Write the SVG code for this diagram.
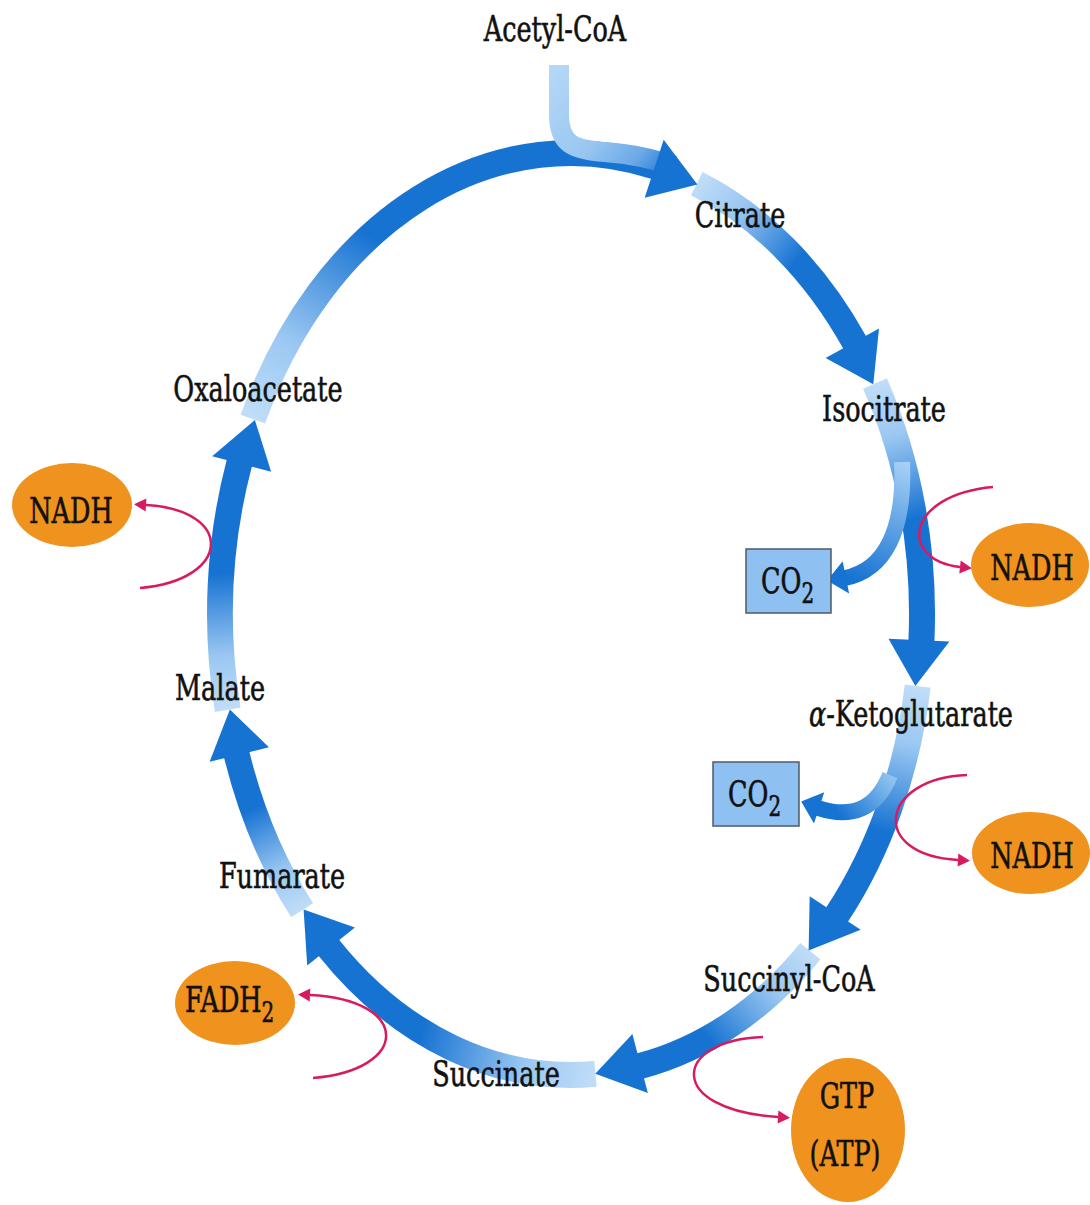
<svg xmlns="http://www.w3.org/2000/svg" xmlns:xlink="http://www.w3.org/1999/xlink" width="1090" height="1205" viewBox="0 0 1090 1205">
<style>
.lbl{font-family:"DejaVu Serif","Liberation Serif",serif;font-size:25.5px;fill:#111;stroke:#111;stroke-width:0.45px;text-anchor:middle}
.lbs{font-family:"DejaVu Serif","Liberation Serif",serif;font-size:25.5px;fill:#111;stroke:#111;stroke-width:0.45px;text-anchor:start}
.band{fill:none;stroke-width:26}
.head{fill:none;stroke:none;marker-end:url(#ah)}
.br{fill:none;stroke-width:16;marker-end:url(#ahs)}
.mg{fill:none;stroke:#d81b60;stroke-width:2.5;marker-end:url(#mh)}
.orb{fill:#f0921e}
.box{fill:#8fc0f2;stroke:#4d5a6a;stroke-width:1.5}
</style>
<defs>
<marker id="ah" markerUnits="userSpaceOnUse" viewBox="-2 -40 50 80" markerWidth="50" markerHeight="80" refX="0" refY="0" orient="auto">
<path d="M-1,-28 L45,4 L-1,33 Z" fill="#1773d2"/>
</marker>
<marker id="ahs" markerUnits="userSpaceOnUse" viewBox="-2 -20 24 40" markerWidth="24" markerHeight="40" refX="0" refY="0" orient="auto">
<path d="M-1,-16 L18,1 L-1,17 Z" fill="#1773d2"/>
</marker>
<marker id="mh" markerUnits="userSpaceOnUse" viewBox="-1 -8 15 16" markerWidth="15" markerHeight="16" refX="0" refY="0" orient="auto">
<path d="M0,-6.5 L12,0 L0,6.5 Z" fill="#d81b60"/>
</marker>
<linearGradient id="g1" gradientUnits="userSpaceOnUse" x1="252.9" y1="419.2" x2="369.7" y2="236.4"><stop offset="0" stop-color="#c0ddf8"/><stop offset="0.4" stop-color="#9ac7f2"/><stop offset="1" stop-color="#1773d2"/></linearGradient>
<linearGradient id="g2" gradientUnits="userSpaceOnUse" x1="696.8" y1="183.6" x2="796.6" y2="260.9"><stop offset="0" stop-color="#c0ddf8"/><stop offset="0.4" stop-color="#9ac7f2"/><stop offset="1" stop-color="#1773d2"/></linearGradient>
<linearGradient id="g3" gradientUnits="userSpaceOnUse" x1="875" y1="383.5" x2="914.3" y2="518.2"><stop offset="0" stop-color="#c0ddf8"/><stop offset="0.4" stop-color="#9ac7f2"/><stop offset="1" stop-color="#1773d2"/></linearGradient>
<linearGradient id="g4" gradientUnits="userSpaceOnUse" x1="917.7" y1="686.1" x2="880.9" y2="830.4"><stop offset="0" stop-color="#c0ddf8"/><stop offset="0.4" stop-color="#9ac7f2"/><stop offset="1" stop-color="#1773d2"/></linearGradient>
<linearGradient id="g5" gradientUnits="userSpaceOnUse" x1="810.4" y1="951.2" x2="708.1" y2="1038.4"><stop offset="0" stop-color="#c0ddf8"/><stop offset="0.4" stop-color="#9ac7f2"/><stop offset="1" stop-color="#1773d2"/></linearGradient>
<linearGradient id="g6" gradientUnits="userSpaceOnUse" x1="595.5" y1="1073.9" x2="422.7" y2="1031.8"><stop offset="0" stop-color="#c0ddf8"/><stop offset="0.4" stop-color="#9ac7f2"/><stop offset="1" stop-color="#1773d2"/></linearGradient>
<linearGradient id="g7" gradientUnits="userSpaceOnUse" x1="302.1" y1="910.3" x2="252.9" y2="808.8"><stop offset="0" stop-color="#c0ddf8"/><stop offset="0.4" stop-color="#9ac7f2"/><stop offset="1" stop-color="#1773d2"/></linearGradient>
<linearGradient id="g8" gradientUnits="userSpaceOnUse" x1="227.7" y1="709.8" x2="221.3" y2="573.8"><stop offset="0" stop-color="#c0ddf8"/><stop offset="0.4" stop-color="#9ac7f2"/><stop offset="1" stop-color="#1773d2"/></linearGradient>
<linearGradient id="gs" gradientUnits="userSpaceOnUse" x1="559" y1="65" x2="675" y2="168"><stop offset="0" stop-color="#b5d7f7"/><stop offset="0.5" stop-color="#98c6f1"/><stop offset="0.78" stop-color="#6aa8e6"/><stop offset="1" stop-color="#1773d2"/></linearGradient>
<linearGradient id="gb1" gradientUnits="userSpaceOnUse" x1="900" y1="462" x2="850" y2="578"><stop offset="0" stop-color="#a5cff5"/><stop offset="1" stop-color="#1773d2"/></linearGradient>
<linearGradient id="gb2" gradientUnits="userSpaceOnUse" x1="888" y1="775" x2="840" y2="815"><stop offset="0" stop-color="#8ec2f0"/><stop offset="1" stop-color="#1773d2"/></linearGradient>
<path id="s1" d="M252.9,419.2 A351,461 0 0 1 655.9,166.7"/>
<path id="s2" d="M696.8,183.6 A351,461 0 0 1 855,343"/>
<path id="s3" d="M875,383.5 A351,461 0 0 1 921.4,641.3"/>
<path id="s4" d="M917.7,686.1 A351,461 0 0 1 836.7,915.2"/>
<path id="s5" d="M810.4,951.2 A351,461 0 0 1 639.8,1066.1"/>
<path id="s6" d="M595.5,1073.9 A351,461 0 0 1 328.5,947.3"/>
<path id="s7" d="M302.1,910.3 A351,461 0 0 1 236.6,754.1"/>
<path id="s8" d="M227.7,709.8 A351,461 0 0 1 239.5,462.4"/>
</defs>
<rect x="0" y="0" width="1090" height="1205" fill="#ffffff"/>

<g id="connectors">
<g id="cycle-bands">
<use xlink:href="#s1" href="#s1" class="band" stroke="url(#g1)"/>
<use xlink:href="#s2" href="#s2" class="band" stroke="url(#g2)"/>
<use xlink:href="#s3" href="#s3" class="band" stroke="url(#g3)"/>
<use xlink:href="#s4" href="#s4" class="band" stroke="url(#g4)"/>
<use xlink:href="#s5" href="#s5" class="band" stroke="url(#g5)"/>
<use xlink:href="#s6" href="#s6" class="band" stroke="url(#g6)"/>
<use xlink:href="#s7" href="#s7" class="band" stroke="url(#g7)"/>
<use xlink:href="#s8" href="#s8" class="band" stroke="url(#g8)"/>
</g>
<path id="acetyl-stem" d="M559,65 L559,115 C559,145 575,150 605,152 C635,154 655,160 674,166" fill="none" stroke="url(#gs)" stroke-width="20"/>
<g id="cycle-heads">
<use xlink:href="#s1" href="#s1" class="head"/>
<use xlink:href="#s2" href="#s2" class="head"/>
<use xlink:href="#s3" href="#s3" class="head"/>
<use xlink:href="#s4" href="#s4" class="head"/>
<use xlink:href="#s5" href="#s5" class="head"/>
<use xlink:href="#s6" href="#s6" class="head"/>
<use xlink:href="#s7" href="#s7" class="head"/>
<use xlink:href="#s8" href="#s8" class="head"/>
</g>
<path id="co2-branch-1" class="br" stroke="url(#gb1)" d="M902,462 C905,530 885,570 845,578"/>
<path id="co2-branch-2" class="br" stroke="url(#gb2)" d="M890,775 Q870,825 818,808"/>
<path class="mg" d="M993,487 C905,495 898,560 960,567"/>
<path class="mg" d="M967,775 C880,778 868,855 958,860"/>
<path class="mg" d="M140,588 C232,580 235,510 146,505"/>
<path class="mg" d="M313,1078 C410,1070 412,1000 310,995"/>
<path class="mg" d="M763,1037 C672,1040 665,1110 778,1117"/>
</g>

<g id="acetyl-coa"><text class="lbl" transform="translate(555,41) scale(1,1.38)">Acetyl-CoA</text></g>
<g id="citrate"><text class="lbl" transform="translate(740,227) scale(1,1.38)">Citrate</text></g>
<g id="isocitrate"><text class="lbl" transform="translate(884,421) scale(1,1.38)">Isocitrate</text></g>
<g id="alpha-ketoglutarate"><text class="lbl" transform="translate(911,726) scale(1,1.38)"><tspan font-style="italic">α</tspan>-Ketoglutarate</text></g>
<g id="succinyl-coa"><text class="lbl" transform="translate(789,991) scale(1,1.38)">Succinyl-CoA</text></g>
<g id="succinate"><text class="lbl" transform="translate(496,1086) scale(1,1.38)">Succinate</text></g>
<g id="fumarate"><text class="lbl" transform="translate(282,888) scale(1,1.38)">Fumarate</text></g>
<g id="malate"><text class="lbl" transform="translate(220,700) scale(1,1.38)">Malate</text></g>
<g id="oxaloacetate"><text class="lbl" transform="translate(258,401) scale(1,1.38)">Oxaloacetate</text></g>

<g id="co2-1">
<rect class="box" x="746" y="549" width="85" height="64"/>
<text class="lbs" transform="translate(761,593) scale(1,1.38)">CO<tspan font-size="20" dy="7">2</tspan></text>
</g>
<g id="co2-2">
<rect class="box" x="713" y="762" width="86" height="64"/>
<text class="lbs" transform="translate(728,806) scale(1,1.38)">CO<tspan font-size="20" dy="7">2</tspan></text>
</g>

<g id="nadh-1">
<ellipse class="orb" cx="1030" cy="565" rx="59" ry="42"/>
<text class="lbl" transform="translate(1032,580) scale(1,1.38)">NADH</text>
</g>
<g id="nadh-2">
<ellipse class="orb" cx="1031" cy="853" rx="59" ry="41"/>
<text class="lbl" transform="translate(1032,868) scale(1,1.38)">NADH</text>
</g>
<g id="nadh-3">
<ellipse class="orb" cx="72" cy="505" rx="60" ry="42"/>
<text class="lbl" transform="translate(71,523) scale(1,1.38)">NADH</text>
</g>
<g id="fadh2">
<ellipse class="orb" cx="235" cy="1003" rx="60" ry="42"/>
<text class="lbs" transform="translate(185,1012) scale(1,1.38)">FADH<tspan font-size="20" dy="7">2</tspan></text>
</g>
<g id="gtp">
<ellipse class="orb" cx="848" cy="1130" rx="57" ry="72"/>
<text class="lbl" transform="translate(847,1108) scale(1,1.38)">GTP</text>
<text class="lbl" transform="translate(845,1166) scale(1,1.38)">(ATP)</text>
</g>
</svg>
